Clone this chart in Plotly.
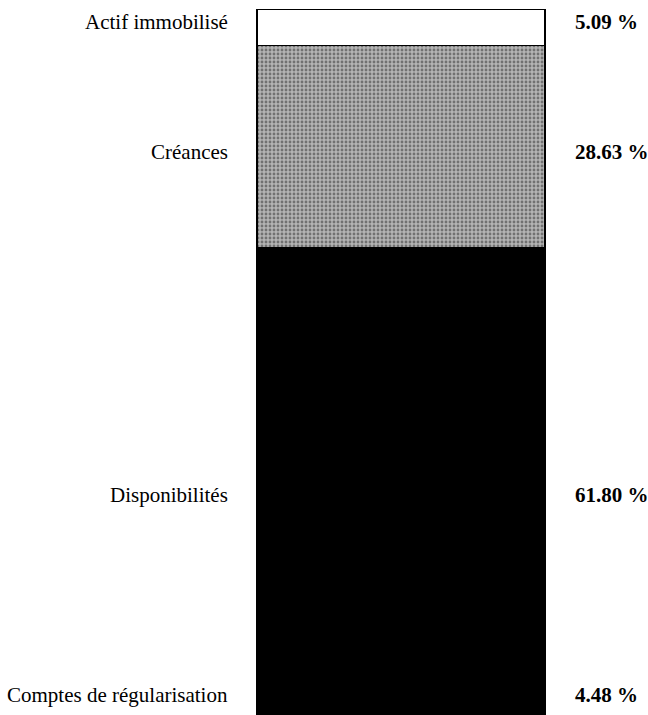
import plotly.graph_objects as go

# Data (top to bottom as shown)
categories = ["Actif immobilisé", "Créances", "Disponibilités", "Comptes de régularisation"]
values = [5.09, 28.63, 61.80, 4.48]
value_labels = ["5.09 %", "28.63 %", "61.80 %", "4.48 %"]

# Styling (layout only)
colors = ["#ffffff", "#a8a8a8", "#000000", "#000000"]
label_y = [98.2, 79.8, 31.2, 2.8]  # annotation heights in axis units

fig = go.Figure()
# stack from bottom to top
for cat, val, col in reversed(list(zip(categories, values, colors))):
    pattern = None
    if cat == "Créances":
        pattern = dict(shape=".", bgcolor="#b4b4b4", fgcolor="#2e2e2e", size=4, solidity=0.4)
    fig.add_trace(go.Bar(
        x=["bar"], y=[val], name=cat,
        marker=dict(color=col, line=dict(color="#000000", width=1.5), pattern=pattern),
        hoverinfo="name+y", showlegend=False,
    ))

font = dict(family="Liberation Serif, Times New Roman, serif", size=21, color="#000000")
annotations = []
for cat, lab, yy in zip(categories, value_labels, label_y):
    annotations.append(dict(x=0, xref="paper", y=yy, yref="y", text=cat,
                            showarrow=False, xanchor="right", yanchor="middle",
                            xshift=-18, font=font))
    annotations.append(dict(x=1, xref="paper", y=yy, yref="y", text="<b>" + lab + "</b>",
                            showarrow=False, xanchor="left", yanchor="middle",
                            xshift=19, font=font))

fig.update_layout(
    width=648, height=715,
    margin=dict(l=248, r=94, t=0, b=0),
    barmode="stack", bargap=0.0588,
    paper_bgcolor="#ffffff", plot_bgcolor="#ffffff",
    xaxis=dict(visible=False, range=[-0.5, 0.5]),
    yaxis=dict(visible=False, range=[0, 101.35]),
    annotations=annotations,
)

fig.write_html(
    "out.html",
    config={"displayModeBar": False},
    post_script="document.body.style.margin='0';document.body.style.overflow='hidden';",
)
